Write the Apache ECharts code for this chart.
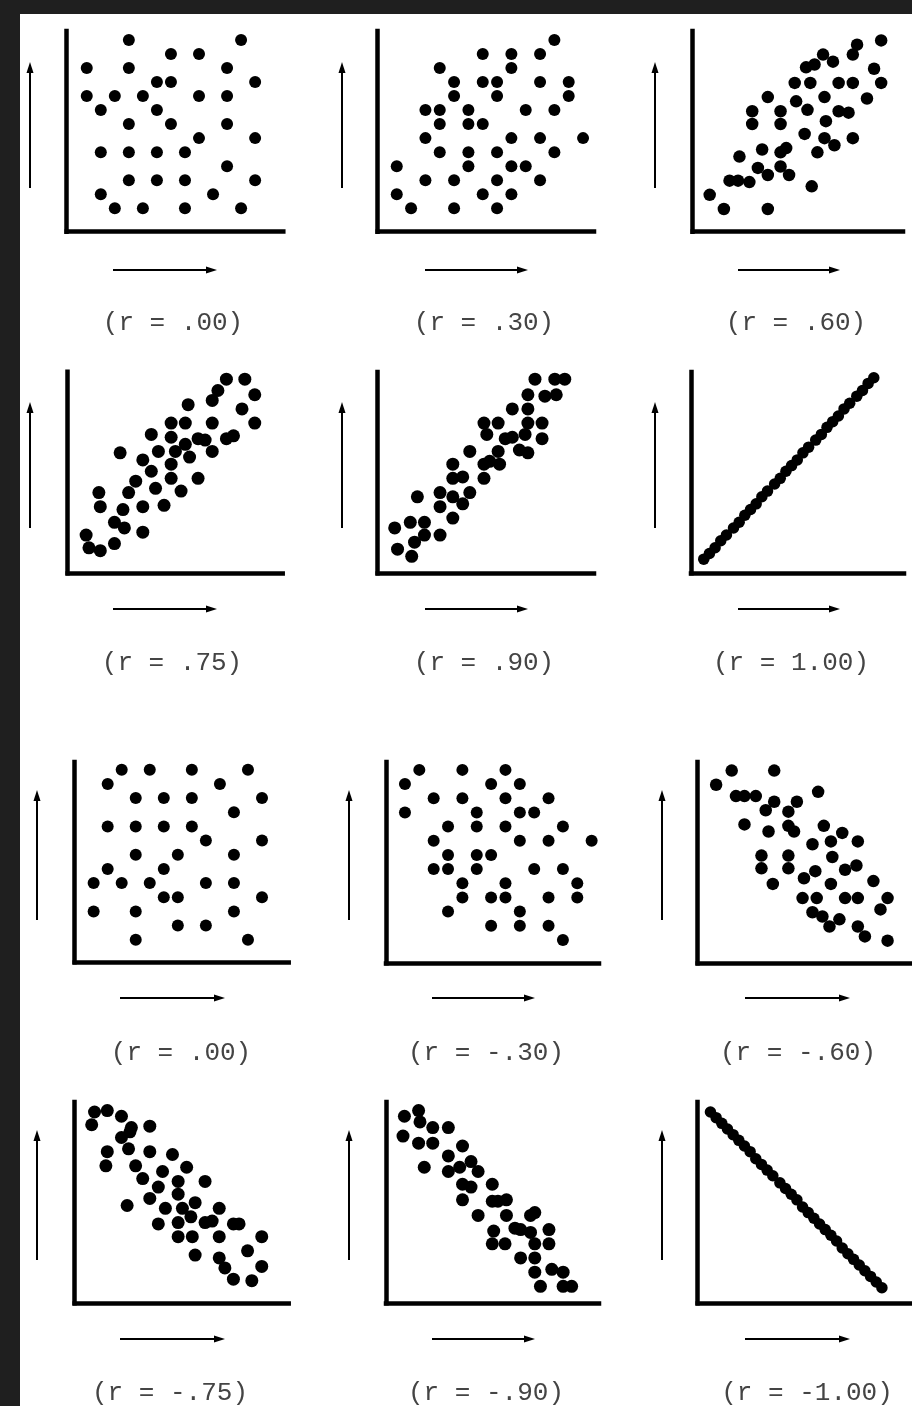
<!DOCTYPE html>
<html>
<head>
<meta charset="utf-8">
<script src="https://cdn.jsdelivr.net/npm/echarts@6/dist/echarts.min.js"></script>
<style>
html, body { margin: 0; padding: 0; background: #1f1f1f; }
#paper { position: absolute; left: 20px; top: 14px; width: 892px; height: 1392px; background: #fff; }
#chart { position: absolute; left: 0; top: 0; width: 912px; height: 1406px; }
</style>
</head>
<body>
<div id="paper"></div>
<div id="chart"></div>
<script>
// point sets, one per panel (x, y in grid steps)
const r000 = [[3,12],[11,12],[6,11],[8,11],[0,10],[3,10],[10,10],[5,9],[6,9],[12,9],
  [0,8],[2,8],[4,8],[8,8],[10,8],[1,7],[5,7],[3,6],[6,6],[10,6],[8,5],[12,5],
  [1,4],[3,4],[5,4],[7,4],[10,3],[3,2],[5,2],[7,2],[12,2],[1,1],[9,1],[2,0],[4,0],[7,0],[11,0]]
const r030 = [[11,12],[6,11],[8,11],[10,11],[3,10],[8,10],[4,9],[6,9],[7,9],[10,9],[12,9],
  [4,8],[7,8],[12,8],[2,7],[3,7],[5,7],[9,7],[11,7],[3,6],[5,6],[6,6],[2,5],[8,5],[10,5],[13,5],
  [3,4],[5,4],[7,4],[11,4],[0,3],[5,3],[8,3],[9,3],[2,2],[4,2],[7,2],[10,2],[0,1],[6,1],[8,1],
  [1,0],[4,0],[7,0]]
const r060 = [[13.3,13.5],[11.6,13.2],[11.3,12.5],[9.2,12.5],[9.9,12.0],[8.0,11.6],[8.6,11.8],
  [12.8,11.5],[7.2,10.5],[8.3,10.5],[10.3,10.5],[11.3,10.5],[13.3,10.5],[5.3,9.5],[9.3,9.5],
  [12.3,9.4],[7.3,9.2],[4.2,8.5],[6.2,8.5],[8.1,8.6],[10.3,8.5],[11.0,8.4],[4.2,7.6],[6.2,7.6],
  [9.4,7.8],[7.9,6.9],[9.3,6.6],[11.3,6.6],[10.0,6.1],[4.9,5.8],[6.6,5.9],[6.2,5.6],[8.8,5.6],
  [3.3,5.3],[4.6,4.5],[6.2,4.6],[5.3,4.0],[6.8,4.0],[2.6,3.6],[3.2,3.6],[4.0,3.5],[8.4,3.2],
  [1.2,2.6],[2.2,1.6],[5.3,1.6]]
const r075 = [[11.2,13.7],[12.5,13.7],[10.6,12.9],[13.2,12.6],[10.2,12.2],[8.5,11.9],[12.3,11.6],
  [7.3,10.6],[8.3,10.6],[10.2,10.6],[13.2,10.6],[5.9,9.8],[7.3,9.6],[9.2,9.5],[9.7,9.4],
  [11.2,9.5],[11.7,9.7],[8.3,9.1],[3.7,8.5],[6.4,8.6],[7.6,8.6],[8.6,8.2],[10.2,8.6],[5.3,8.0],
  [5.9,7.2],[7.3,7.7],[7.3,6.7],[9.2,6.7],[4.8,6.5],[4.3,5.7],[6.2,6.0],[8.0,5.8],[2.2,5.7],
  [2.3,4.7],[3.9,4.5],[5.3,4.7],[6.8,4.8],[3.3,3.6],[4.0,3.2],[5.3,2.9],[1.3,2.7],[3.3,2.1],
  [1.5,1.8],[2.3,1.6]]
const r090 = [[11.1,13.7],[12.5,13.7],[13.2,13.7],[10.6,12.6],[11.8,12.5],[12.6,12.6],[9.5,11.6],
  [10.6,11.6],[7.5,10.6],[8.5,10.6],[10.6,10.6],[11.6,10.6],[7.7,9.8],[9.0,9.5],[9.5,9.6],
  [10.4,9.8],[11.6,9.5],[6.5,8.6],[8.5,8.6],[10.0,8.7],[10.6,8.5],[5.3,7.7],[7.5,7.7],[7.9,7.9],
  [8.6,7.7],[5.3,6.7],[6.0,6.8],[7.5,6.7],[2.8,5.4],[4.4,5.7],[5.3,5.4],[6.5,5.7],[4.4,4.7],
  [6.0,4.9],[5.3,3.9],[2.3,3.6],[3.3,3.6],[1.2,3.2],[3.3,2.7],[4.4,2.7],[2.6,2.2],[1.4,1.7],
  [2.4,1.2]]
const r100 = [[0.9,1.0],[1.3,1.4],[1.7,1.8],[2.1,2.3],[2.5,2.7],[3.0,3.2],[3.4,3.6],[3.8,4.1],
  [4.2,4.5],[4.6,4.9],[5.0,5.4],[5.4,5.8],[5.9,6.3],[6.3,6.7],[6.7,7.2],[7.1,7.6],[7.5,8.0],
  [7.9,8.5],[8.3,8.9],[8.8,9.4],[9.2,9.8],[9.6,10.3],[10.0,10.7],[10.4,11.1],[10.8,11.6],
  [11.2,12.0],[11.7,12.5],[12.1,12.9],[12.5,13.4],[12.9,13.8]]
const rn000 = [[2,12],[4,12],[7,12],[11,12],[1,11],[9,11],[3,10],[5,10],[7,10],[12,10],[10,9],
  [1,8],[3,8],[5,8],[7,8],[8,7],[12,7],[3,6],[6,6],[10,6],[1,5],[5,5],[0,4],[2,4],[4,4],[8,4],
  [10,4],[5,3],[6,3],[12,3],[0,2],[3,2],[10,2],[6,1],[8,1],[3,0],[11,0]]
const rn030 = [[1,12],[4,12],[7,12],[0,11],[6,11],[8,11],[2,10],[4,10],[7,10],[10,10],[0,9],[5,9],
  [8,9],[9,9],[3,8],[5,8],[7,8],[11,8],[2,7],[8,7],[10,7],[13,7],[3,6],[5,6],[6,6],[2,5],[3,5],
  [5,5],[9,5],[11,5],[4,4],[7,4],[12,4],[4,3],[6,3],[7,3],[10,3],[12,3],[3,2],[8,2],[6,1],[8,1],
  [10,1],[11,0]]
const rn060 = [[2.4,13.6],[5.4,13.6],[1.3,12.6],[8.5,12.1],[2.7,11.8],[3.3,11.8],[4.1,11.8],
  [5.4,11.4],[7.0,11.4],[4.8,10.8],[6.4,10.7],[3.3,9.8],[5.0,9.3],[6.4,9.7],[6.8,9.3],[8.9,9.7],
  [10.2,9.2],[8.1,8.4],[9.4,8.6],[11.3,8.6],[4.5,7.6],[6.4,7.6],[9.5,7.5],[4.5,6.7],[6.4,6.7],
  [8.3,6.5],[10.4,6.6],[11.2,6.9],[7.5,6.0],[5.3,5.6],[9.4,5.6],[12.4,5.8],[7.4,4.6],[8.4,4.6],
  [10.4,4.6],[11.3,4.6],[13.4,4.6],[8.1,3.6],[8.8,3.3],[10.0,3.1],[12.9,3.8],[9.3,2.6],
  [11.3,2.6],[11.8,1.9],[13.4,1.6]]
const rn075 = [[1.4,13.5],[2.3,13.6],[3.3,13.2],[1.2,12.6],[4.0,12.4],[5.3,12.5],[3.3,11.7],
  [3.9,12.1],[3.8,10.9],[2.3,10.7],[5.3,10.7],[6.9,10.5],[2.2,9.7],[4.3,9.7],[7.9,9.6],[6.2,9.3],
  [4.8,8.8],[7.3,8.6],[9.2,8.6],[5.9,8.2],[7.3,7.7],[5.3,7.4],[3.7,6.9],[6.4,6.7],[7.6,6.7],
  [8.5,7.1],[10.2,6.7],[8.2,6.1],[5.9,5.6],[7.3,5.7],[9.2,5.7],[9.7,5.8],[11.2,5.6],[11.6,5.6],
  [7.3,4.7],[8.3,4.7],[10.2,4.7],[13.2,4.7],[12.2,3.7],[8.5,3.4],[10.2,3.2],[10.6,2.5],
  [13.2,2.6],[11.2,1.7],[12.5,1.6]]
const rn090 = [[1.3,13.2],[2.3,13.6],[2.4,12.8],[3.3,12.4],[4.4,12.4],[1.2,11.8],[2.3,11.3],
  [3.3,11.3],[5.4,11.1],[4.4,10.4],[6.0,10.0],[2.7,9.6],[4.4,9.3],[5.2,9.6],[6.5,9.3],[5.4,8.4],
  [6.0,8.2],[7.5,8.4],[5.4,7.3],[7.5,7.2],[7.9,7.2],[8.5,7.3],[6.5,6.2],[8.5,6.2],[10.2,6.2],
  [10.5,6.4],[7.6,5.1],[9.1,5.3],[9.5,5.2],[10.2,5.0],[11.5,5.2],[7.5,4.2],[8.4,4.2],[10.5,4.2],
  [11.5,4.2],[9.5,3.2],[10.5,3.2],[10.5,2.2],[11.7,2.4],[12.5,2.2],[10.9,1.2],[12.5,1.2],
  [13.1,1.2]]
const rn100 = [[0.9,13.5],[1.3,13.1],[1.7,12.7],[2.1,12.3],[2.5,11.9],[2.9,11.5],[3.3,11.1],
  [3.7,10.7],[4.1,10.2],[4.5,9.8],[4.9,9.4],[5.3,9.0],[5.8,8.5],[6.2,8.1],[6.6,7.7],[7.0,7.3],
  [7.4,6.8],[7.8,6.4],[8.2,6.0],[8.6,5.6],[9.0,5.2],[9.4,4.8],[9.8,4.4],[10.2,3.9],[10.6,3.5],
  [11.0,3.1],[11.4,2.7],[11.8,2.3],[12.2,1.9],[12.6,1.5],[13.0,1.1]]

const captions = ['(r = .00)', '(r = .30)', '(r = .60)', '(r = .75)', '(r = .90)', '(r = 1.00)',
  '(r = .00)', '(r = -.30)', '(r = -.60)', '(r = -.75)', '(r = -.90)', '(r = -1.00)']

// panel frames in page pixels: axis corner, ends, and how many px one grid step takes
const panels = [
  { data: r000, l: 66.7, t: 31, r: 283.3, b: 231.7, x0: -1.43, y0: -1.67, sx: 14.03, sy: 14.03, size: 12 },
  { data: r030, l: 377.7, t: 31, r: 594, b: 231.7, x0: -1.33, y0: -1.67, sx: 14.33, sy: 14.03, size: 12 },
  { data: r060, l: 692.7, t: 31, r: 903, b: 231.7, x0: 0, y0: 0, sx: 14.17, sy: 14.17, size: 12.5 },
  { data: r075, l: 67.7, t: 371.7, r: 282.7, b: 573.3, x0: 0, y0: 0, sx: 14.17, sy: 14.17, size: 13 },
  { data: r090, l: 377.7, t: 372, r: 594, b: 573.3, x0: 0, y0: 0, sx: 14.17, sy: 14.17, size: 13 },
  { data: r100, l: 691, t: 372, r: 904, b: 573.3, x0: 0, y0: 0, sx: 14.17, sy: 14.17, size: 11.5 },
  { data: rn000, l: 74.7, t: 762, r: 288.7, b: 962.3, x0: -1.35, y0: -1.59, sx: 14.03, sy: 14.17, size: 12 },
  { data: rn030, l: 386, t: 762, r: 599, b: 963.3, x0: -1.32, y0: -1.65, sx: 14.36, sy: 14.17, size: 12 },
  { data: rn060, l: 697.7, t: 762, r: 912, b: 963.3, x0: 0, y0: 0, sx: 14.17, sy: 14.17, size: 12.5 },
  { data: rn075, l: 74.7, t: 1102, r: 288.7, b: 1303.3, x0: 0, y0: 0, sx: 14.17, sy: 14.17, size: 13 },
  { data: rn090, l: 386, t: 1102, r: 599, b: 1303.3, x0: 0, y0: 0, sx: 14.17, sy: 14.17, size: 13 },
  { data: rn100, l: 697.7, t: 1102, r: 912, b: 1303.3, x0: 0, y0: 0, sx: 14.17, sy: 14.17, size: 11.5 }
]

// arrows and caption spots
const upArrowX = [[30, 342, 655], [30, 342, 655], [37, 349, 662], [37, 349, 662]]
const upArrowY = [[188, 62], [528, 402], [920, 790], [1260, 1130]]
const rightArrowX = [[113, 217], [425, 528], [738, 840]]
const rightArrowX2 = [[120, 225], [432, 535], [745, 850]]
const rightArrowY = [270, 609, 998, 1339]
const captionX = [[173, 484, 796], [172, 484, 791], [181, 486, 798], [170, 486, 807]]
const captionY = [323, 663, 1053, 1393]

const chart = echarts.init(document.getElementById('chart'))

const grid = [], xAxis = [], yAxis = [], series = []
panels.forEach((p, i) => {
  const w = p.r - p.l, h = p.b - p.t
  grid.push({ left: p.l, top: p.t, width: w, height: h })
  xAxis.push({
    gridIndex: i, type: 'value', min: p.x0, max: p.x0 + w / p.sx,
    axisLine: { show: true, onZero: false, lineStyle: { color: '#000', width: 4.5, cap: 'square' } },
    axisTick: { show: false }, axisLabel: { show: false }, splitLine: { show: false }
  })
  yAxis.push({
    gridIndex: i, type: 'value', min: p.y0, max: p.y0 + h / p.sy,
    axisLine: { show: true, onZero: false, lineStyle: { color: '#000', width: 4.5, cap: 'square' } },
    axisTick: { show: false }, axisLabel: { show: false }, splitLine: { show: false }
  })
  series.push({
    type: 'scatter', xAxisIndex: i, yAxisIndex: i, data: p.data,
    symbol: 'circle', symbolSize: p.size, silent: true,
    itemStyle: { color: '#000', opacity: 1 }
  })
})

function upArrow(x, y1, y2) {
  return [
    { type: 'line', shape: { x1: x, y1: y1, x2: x, y2: y2 + 8 }, style: { stroke: '#000', lineWidth: 2 } },
    { type: 'polygon', shape: { points: [[x, y2], [x - 3.5, y2 + 11], [x + 3.5, y2 + 11]] }, style: { fill: '#000' } }
  ]
}
function rightArrow(y, x1, x2) {
  return [
    { type: 'line', shape: { x1: x1, y1: y, x2: x2 - 8, y2: y }, style: { stroke: '#000', lineWidth: 2 } },
    { type: 'polygon', shape: { points: [[x2, y], [x2 - 11, y - 3.5], [x2 - 11, y + 3.5]] }, style: { fill: '#000' } }
  ]
}

const graphic = []
for (let row = 0; row < 4; row++) {
  for (let col = 0; col < 3; col++) {
    graphic.push(...upArrow(upArrowX[row][col], upArrowY[row][0], upArrowY[row][1]))
    const hx = row < 2 ? rightArrowX[col] : rightArrowX2[col]
    graphic.push(...rightArrow(rightArrowY[row], hx[0], hx[1]))
    graphic.push({
      type: 'text', x: captionX[row][col], y: captionY[row],
      style: {
        text: captions[row * 3 + col], font: '26px "Liberation Mono", monospace', fill: '#444',
        textAlign: 'center', textVerticalAlign: 'middle', align: 'center', verticalAlign: 'middle'
      }
    })
  }
}

chart.setOption({
  animation: false,
  backgroundColor: 'transparent',
  grid, xAxis, yAxis, series, graphic
})
</script>
</body>
</html>
